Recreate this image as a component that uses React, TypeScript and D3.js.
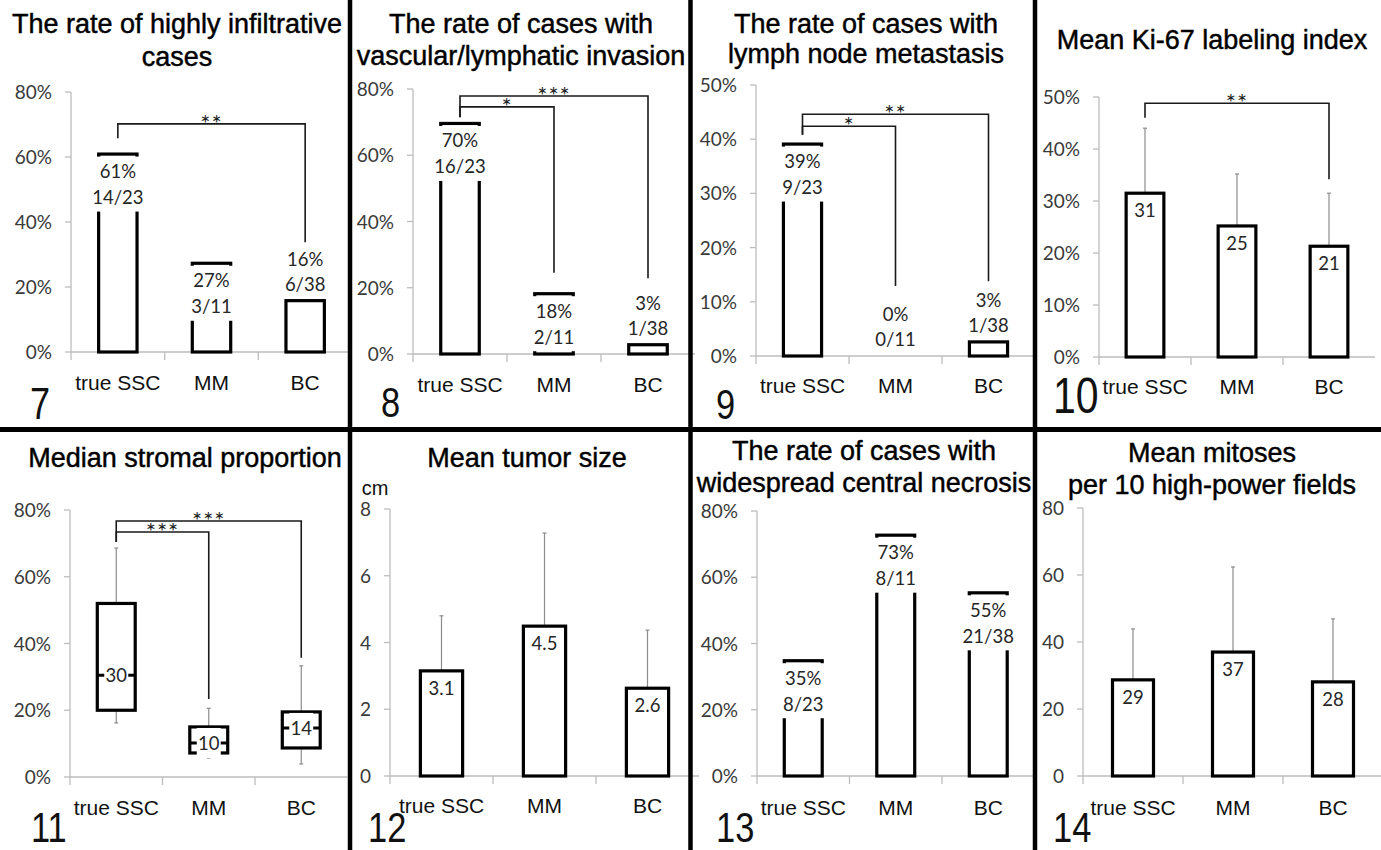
import * as d3 from "d3";
import React, { useEffect } from "react";

const categories = ["true SSC", "MM", "BC"];

// 7 - highly infiltrative
const infiltrativeRate = [60.9, 27.3, 15.8];
const infiltrativePct = ["61%", "27%", "16%"];
const infiltrativeCount = ["14/23", "3/11", "6/38"];
const infiltrativeSig = [{ from: 0, to: 2, start: 65.8, level: 70.2, end: 33.8, mark: "**" }];

// 8 - vascular/lymphatic invasion
const invasionRate = [69.6, 18.2, 2.8];
const invasionPct = ["70%", "18%", "3%"];
const invasionCount = ["16/23", "2/11", "1/38"];
const invasionSig = [
  { from: 0, to: 1, start: 71.5, level: 74.6, end: 24.5, mark: "*" },
  { from: 0, to: 2, start: 71.5, level: 77.9, end: 22.9, mark: "***" },
];

// 9 - lymph node metastasis
const metastasisRate = [39.1, 0, 2.6];
const metastasisPct = ["39%", "0%", "3%"];
const metastasisCount = ["9/23", "0/11", "1/38"];
const metastasisSig = [
  { from: 0, to: 1, start: 40.8, level: 42.4, end: 12.9, mark: "*" },
  { from: 0, to: 2, start: 40.8, level: 44.6, end: 13.8, mark: "**" },
];

// 10 - Ki-67
const ki67Mean = [31.5, 25.2, 21.3];
const ki67Upper = [44.0, 35.2, 31.5];
const ki67Label = ["31", "25", "21"];
const ki67Sig = [{ from: 0, to: 2, start: 46.0, level: 48.8, end: 34.2, mark: "**" }];

// 11 - stromal proportion (box plot)
const stromaMin = [16.2, 5.7, 3.9];
const stromaQ1 = [20.0, 7.2, 8.7];
const stromaMedian = [30.5, 10.2, 14.7];
const stromaQ3 = [52.0, 15.0, 19.5];
const stromaMax = [68.6, 20.6, 33.3];
const stromaLabel = ["30", "10", "14"];
const stromaSig = [
  { from: 0, to: 1, start: 70.4, level: 73.4, end: 23.4, mark: "***" },
  { from: 0, to: 2, start: 70.4, level: 76.7, end: 35.7, mark: "***" },
];

// 12 - tumor size
const sizeMean = [3.15, 4.49, 2.63];
const sizeUpper = [4.8, 7.28, 4.37];
const sizeLabel = ["3.1", "4.5", "2.6"];

// 13 - central necrosis
const necrosisRate = [34.8, 72.7, 55.3];
const necrosisPct = ["35%", "73%", "55%"];
const necrosisCount = ["8/23", "8/11", "21/38"];

// 14 - mitoses
const mitosisMean = [28.7, 37.0, 28.1];
const mitosisUpper = [43.9, 62.4, 46.9];
const mitosisLabel = ["29", "37", "28"];

const TITLE_FONT = "'Liberation Sans', Arial, sans-serif";
const NUM_FONT = "Lato, 'Noto Sans', sans-serif";

const panels: any[] = [
  { id: "7", kind: "rate", title: ["The rate of highly infiltrative", "cases"], titleX: 177, titleY: [33, 66],
    x0: 71, x1: 352, yBase: 352, yTop: 92, yMax: 80, step: 20, pct: true, catY: 390, numX: 30, numY: 419, numSize: 44,
    values: infiltrativeRate, labels: infiltrativePct, counts: infiltrativeCount, sig: infiltrativeSig },
  { id: "8", kind: "rate", title: ["The rate of cases with", "vascular/lymphatic invasion"], titleX: 521, titleY: [33, 65],
    x0: 413, x1: 695, yBase: 354, yTop: 89, yMax: 80, step: 20, pct: true, catY: 392, numX: 381, numY: 417, numSize: 42,
    values: invasionRate, labels: invasionPct, counts: invasionCount, sig: invasionSig },
  { id: "9", kind: "rate", title: ["The rate of cases with", "lymph node metastasis"], titleX: 866, titleY: [33, 63],
    x0: 756, x1: 1035, yBase: 356, yTop: 85, yMax: 50, step: 10, pct: true, catY: 393, numX: 716, numY: 419, numSize: 42,
    values: metastasisRate, labels: metastasisPct, counts: metastasisCount, sig: metastasisSig },
  { id: "10", kind: "mean", title: ["Mean Ki-67 labeling index"], titleX: 1212, titleY: [49],
    x0: 1099, x1: 1375, yBase: 357, yTop: 97, yMax: 50, step: 10, pct: true, catY: 394, numX: 1053, numY: 413, numSize: 50,
    values: ki67Mean, upper: ki67Upper, labels: ki67Label, sig: ki67Sig },
  { id: "11", kind: "box", title: ["Median stromal proportion"], titleX: 185, titleY: [467],
    x0: 70, x1: 347.5, yBase: 777, yTop: 510, yMax: 80, step: 20, pct: true, catY: 815, numX: 31, numY: 842, numSize: 42,
    labels: stromaLabel, sig: stromaSig },
  { id: "12", kind: "mean", title: ["Mean tumor size"], titleX: 527, titleY: [467],
    x0: 390, x1: 699, yBase: 776, yTop: 509, yMax: 8, step: 2, pct: false, catY: 813, numX: 368, numY: 842, numSize: 42,
    values: sizeMean, upper: sizeUpper, labels: sizeLabel, sig: [], unit: "cm" },
  { id: "13", kind: "rate", title: ["The rate of cases with", "widespread central necrosis"], titleX: 864, titleY: [460, 492],
    x0: 757, x1: 1034.5, yBase: 776, yTop: 511, yMax: 80, step: 20, pct: true, catY: 815, numX: 716, numY: 842, numSize: 42,
    values: necrosisRate, labels: necrosisPct, counts: necrosisCount, sig: [] },
  { id: "14", kind: "mean", title: ["Mean mitoses", "per 10 high-power fields"], titleX: 1212, titleY: [462, 494],
    x0: 1083, x1: 1383, yBase: 776, yTop: 508, yMax: 80, step: 20, pct: false, catY: 815, numX: 1053, numY: 842, numSize: 42,
    values: mitosisMean, upper: mitosisUpper, labels: mitosisLabel, sig: [] },
];

function Panel({ p }: { p: any }) {
  const x = d3.scaleBand().domain(categories).range([p.x0, p.x1]).padding(0);
  const y = d3.scaleLinear().domain([0, p.yMax]).range([p.yBase, p.yTop]);
  const bw = x.bandwidth();
  const barW = bw * 0.41;
  const cx = (i: number) => (x(categories[i]) as number) + bw / 2;
  const ticks = d3.range(0, p.yMax + p.step / 2, p.step);
  const axisColor = "#bdbdbd";

  return (
    <g>
      {p.title.map((t: string, i: number) => (
        <text key={i} x={p.titleX} y={p.titleY[i]} textAnchor="middle" fontFamily={TITLE_FONT} fontSize={27}
          fill="#000" stroke="#000" strokeWidth={0.45}>
          {t}
        </text>
      ))}
      {p.unit && (
        <text x={p.x0 - 15} y={p.yTop - 14} textAnchor="middle" fontFamily={TITLE_FONT} fontSize={20} fill="#111">
          {p.unit}
        </text>
      )}
      {/* y axis */}
      <line x1={p.x0} x2={p.x0} y1={p.yTop} y2={p.yBase + 8} stroke={axisColor} strokeWidth={1.3} />
      {ticks.map((t: number) => (
        <g key={t}>
          <line x1={p.x0 - 6} x2={p.x0} y1={y(t)} y2={y(t)} stroke={axisColor} strokeWidth={1.3} />
          <text x={p.x0 - 19} y={y(t) + 7} textAnchor="end" fontFamily={NUM_FONT} fontSize={19} fill="#3a3a3a">
            {p.pct ? `${t}%` : t}
          </text>
        </g>
      ))}
      {/* x axis */}
      <line x1={p.x0} x2={p.x1} y1={p.yBase} y2={p.yBase} stroke={axisColor} strokeWidth={1.3} />
      {categories.map((c, i) => (
        <g key={c}>
          {i > 0 && (
            <line x1={x(c)} x2={x(c)} y1={p.yBase} y2={p.yBase + 8} stroke={axisColor} strokeWidth={1.3} />
          )}
          <text x={cx(i)} y={p.catY} textAnchor="middle" fontFamily={TITLE_FONT} fontSize={21} fill="#111">
            {c}
          </text>
        </g>
      ))}

      {p.kind === "rate" &&
        p.values.map((v: number, i: number) => {
          const top = y(v);
          const h = p.yBase - top;
          const inside = h > 58;
          const l1 = inside ? top + 24 : top - 35;
          const l2 = inside ? top + 50 : top - 10;
          return (
            <g key={i}>
              {v > 0 && (
                <rect x={cx(i) - barW / 2} y={top} width={barW} height={h} fill="#fff" stroke="#000" strokeWidth={3.2} />
              )}
              {inside && <rect x={cx(i) - barW / 2 - 6} y={top + 2.5} width={barW + 12} height={55} fill="#fff" />}
              <text x={cx(i)} y={l1} textAnchor="middle" fontFamily={NUM_FONT} fontSize={18.5} fill="#262626">
                {p.labels[i]}
              </text>
              <text x={cx(i)} y={l2} textAnchor="middle" fontFamily={NUM_FONT} fontSize={18.5} fill="#262626">
                {p.counts[i]}
              </text>
            </g>
          );
        })}

      {p.kind === "mean" &&
        p.values.map((v: number, i: number) => {
          const top = y(v);
          return (
            <g key={i}>
              <line x1={cx(i)} x2={cx(i)} y1={top} y2={y(p.upper[i])} stroke="#8c8c8c" strokeWidth={1.2} />
              <line x1={cx(i) - 2} x2={cx(i) + 2} y1={y(p.upper[i])} y2={y(p.upper[i])} stroke="#8c8c8c" strokeWidth={1.2} />
              <rect x={cx(i) - barW / 2} y={top} width={barW} height={p.yBase - top} fill="#fff" stroke="#000" strokeWidth={3.2} />
              <text x={cx(i)} y={top + 24} textAnchor="middle" fontFamily={NUM_FONT} fontSize={18.5} fill="#262626">
                {p.labels[i]}
              </text>
            </g>
          );
        })}

      {p.kind === "box" &&
        categories.map((c, i) => {
          const x0 = cx(i) - barW / 2;
          const q1 = y(stromaQ1[i]);
          const q3 = y(stromaQ3[i]);
          const md = y(stromaMedian[i]);
          return (
            <g key={c}>
              <line x1={cx(i)} x2={cx(i)} y1={y(stromaMax[i])} y2={y(stromaMin[i])} stroke="#8c8c8c" strokeWidth={1.2} />
              <line x1={cx(i) - 2} x2={cx(i) + 2} y1={y(stromaMax[i])} y2={y(stromaMax[i])} stroke="#8c8c8c" strokeWidth={1.2} />
              <line x1={cx(i) - 2} x2={cx(i) + 2} y1={y(stromaMin[i])} y2={y(stromaMin[i])} stroke="#8c8c8c" strokeWidth={1.2} />
              <rect x={x0} y={q3} width={barW} height={q1 - q3} fill="#fff" stroke="#000" strokeWidth={3.2} />
              <line x1={x0} x2={x0 + barW} y1={md} y2={md} stroke="#000" strokeWidth={3} />
              <rect x={cx(i) - 12} y={md - 15} width={24} height={30} fill="#fff" />
              <text x={cx(i)} y={md + 7} textAnchor="middle" fontFamily={NUM_FONT} fontSize={18.5} fill="#262626">
                {p.labels[i]}
              </text>
            </g>
          );
        })}

      {p.sig.map((s: any, k: number) => {
        const xa = cx(s.from);
        const xb = cx(s.to);
        const path = d3.path();
        path.moveTo(xa, y(s.start));
        path.lineTo(xa, y(s.level));
        path.lineTo(xb, y(s.level));
        path.lineTo(xb, y(s.end));
        return (
          <g key={k}>
            <path d={path.toString()} fill="none" stroke="#1a1a1a" strokeWidth={1.6} />
            <text x={(xa + xb) / 2} y={y(s.level) + 8} textAnchor="middle" fontFamily={NUM_FONT} fontSize={24}
              letterSpacing={1} fill="#222">
              {s.mark}
            </text>
          </g>
        );
      })}

      <text transform={`translate(${p.numX},${p.numY}) scale(0.82,1)`} fontFamily={TITLE_FONT} fontSize={p.numSize} fill="#111">
        {p.id}
      </text>
    </g>
  );
}

export default function App() {
  useEffect(() => {
    document.body.style.margin = "0";
  }, []);
  const W = 1381;
  const H = 850;
  return (
    <svg width={W} height={H} style={{ position: "absolute", left: 0, top: 0, background: "#fff" }}>
      <rect width={W} height={H} fill="#fff" />
      {panels.map((p) => (
        <Panel key={p.id} p={p} />
      ))}
      {/* dividers */}
      <line x1={350} x2={350} y1={0} y2={H} stroke="#000" strokeWidth={4.5} />
      <line x1={690.5} x2={690.5} y1={0} y2={H} stroke="#000" strokeWidth={4.5} />
      <line x1={1035} x2={1035} y1={0} y2={H} stroke="#000" strokeWidth={4.5} />
      <line x1={0} x2={W} y1={429.5} y2={429.5} stroke="#000" strokeWidth={5} />
    </svg>
  );
}
